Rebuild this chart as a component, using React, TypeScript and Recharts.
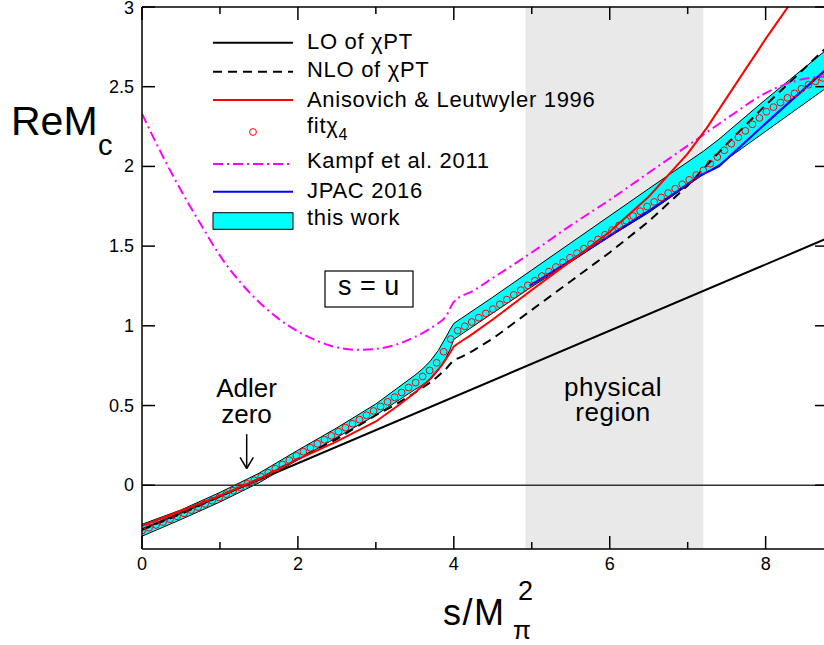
import React from 'react';
import {
  ComposedChart, Line, Area, Scatter, XAxis, YAxis,
  ReferenceArea, ReferenceLine, Legend
} from 'recharts';

const FONT = '"Liberation Sans", Arial, Helvetica, sans-serif';

// values, x = s/M_pi^2
const loS = [0, 8.8];
const loY = [-0.277, 1.551];

const nloS = [0, 0.5, 1.0, 1.5, 2.0, 2.5, 3.0, 3.25, 3.5, 3.7, 3.8, 3.9, 3.97, 4.0, 4.1, 4.25, 4.5, 5.0, 5.5, 6.0, 6.5, 7.0, 7.5, 8.0, 8.8];
const nloY = [-0.28, -0.18, -0.07, 0.04, 0.165, 0.29, 0.44, 0.505, 0.58, 0.645, 0.685, 0.73, 0.77, 0.785, 0.805, 0.845, 0.92, 1.10, 1.28, 1.46, 1.655, 1.88, 2.14, 2.385, 2.755];

const alS = [0, 0.5, 1.0, 1.5, 2.0, 2.5, 3.0, 3.3, 3.5, 3.7, 3.85, 3.95, 4.0, 4.1, 4.2, 4.5, 5.0, 5.5, 6.0, 6.5, 7.0, 7.25, 7.5, 7.75, 7.9, 8.0, 8.15, 8.3, 8.5];
const alY = [-0.255, -0.16, -0.065, 0.04, 0.163, 0.275, 0.40, 0.505, 0.58, 0.668, 0.755, 0.83, 0.87, 0.905, 0.935, 1.04, 1.225, 1.405, 1.59, 1.81, 2.08, 2.245, 2.43, 2.615, 2.725, 2.80, 2.905, 3.01, 3.15];

const kampfS = [0, 0.25, 0.5, 0.75, 1.0, 1.25, 1.5, 1.75, 2.0, 2.25, 2.5, 2.75, 3.0, 3.25, 3.5, 3.75, 3.9, 4.0, 4.25, 4.5, 5.0, 5.5, 6.0, 6.5, 7.0, 7.5, 8.0, 8.25, 8.5, 8.8];
const kampfY = [2.33, 2.08, 1.85, 1.64, 1.44, 1.28, 1.15, 1.045, 0.965, 0.905, 0.865, 0.85, 0.855, 0.88, 0.93, 1.0, 1.06, 1.15, 1.22, 1.30, 1.46, 1.63, 1.79, 1.96, 2.13, 2.30, 2.46, 2.515, 2.55, 2.565];

const jpacS = [4.97, 5.5, 6.0, 6.5, 7.15, 7.4, 8.0, 8.8];
const jpacY = [1.25, 1.41, 1.565, 1.72, 1.94, 2.0, 2.27, 2.62];

const bandS = [0, 0.5, 1.0, 1.5, 2.0, 2.5, 3.0, 3.5, 3.6, 3.7, 3.8, 3.9, 3.95, 4.0, 4.5, 5.0, 5.5, 6.0, 6.5, 7.2, 7.4, 8.0, 8.8];
const bandLow = [-0.32, -0.215, -0.105, 0.015, 0.16, 0.30, 0.44, 0.60, 0.63, 0.665, 0.72, 0.80, 0.85, 0.915, 1.08, 1.245, 1.40, 1.56, 1.71, 1.95, 2.01, 2.22, 2.50];
const bandHigh = [-0.245, -0.155, -0.045, 0.075, 0.22, 0.36, 0.51, 0.69, 0.73, 0.78, 0.845, 0.93, 0.975, 1.015, 1.18, 1.35, 1.52, 1.69, 1.86, 2.095, 2.17, 2.42, 2.74];

const fitS = [
  0, 0.09, 0.18, 0.27, 0.36, 0.45, 0.54, 0.63, 0.72, 0.81,
  0.9, 0.99, 1.08, 1.17, 1.26, 1.35, 1.44, 1.53, 1.62, 1.71,
  1.8, 1.89, 1.98, 2.07, 2.16, 2.25, 2.34, 2.43, 2.52, 2.61,
  2.7, 2.79, 2.88, 2.97, 3.06, 3.15, 3.24, 3.33, 3.42, 3.51,
  3.6, 3.69, 3.78, 3.87, 3.96, 4.05, 4.14, 4.23, 4.32, 4.41,
  4.5, 4.59, 4.68, 4.77, 4.86, 4.95, 5.04, 5.13, 5.22, 5.31,
  5.4, 5.49, 5.58, 5.67, 5.76, 5.85, 5.94, 6.03, 6.12, 6.21,
  6.3, 6.39, 6.48, 6.57, 6.66, 6.75, 6.84, 6.93, 7.02, 7.11,
  7.2, 7.29, 7.38, 7.47, 7.56, 7.65, 7.74, 7.83, 7.92, 8.01,
  8.1, 8.19, 8.28, 8.37, 8.46, 8.55, 8.64, 8.73,
];
const fitY = [
  -0.285, -0.267, -0.249, -0.231, -0.213, -0.195, -0.176, -0.156, -0.137, -0.117,
  -0.097, -0.077, -0.056, -0.034, -0.013, 0.009, 0.031, 0.053, 0.078, 0.104,
  0.130, 0.157, 0.184, 0.210, 0.235, 0.260, 0.285, 0.310, 0.336, 0.361,
  0.386, 0.412, 0.439, 0.466, 0.494, 0.523, 0.552, 0.582, 0.613, 0.644,
  0.682, 0.720, 0.768, 0.837, 0.917, 0.970, 0.997, 1.024, 1.051, 1.078,
  1.105, 1.135, 1.164, 1.194, 1.224, 1.254, 1.283, 1.312, 1.340, 1.369,
  1.398, 1.427, 1.456, 1.484, 1.513, 1.542, 1.571, 1.600, 1.630, 1.659,
  1.689, 1.719, 1.748, 1.777, 1.805, 1.833, 1.860, 1.888, 1.916, 1.946,
  1.975, 2.017, 2.059, 2.101, 2.142, 2.183, 2.223, 2.264, 2.304, 2.343,
  2.372, 2.401, 2.430, 2.458, 2.487, 2.512, 2.534, 2.555,
];

const xTicks = [0, 1, 2, 3, 4, 5, 6, 7, 8];
const yTicks = [0, 0.5, 1, 1.5, 2, 2.5, 3];

const physRegion = [4.92, 7.2];
const adlerZero = 1.343;

const toPts = (xs: number[], ys: number[]) => xs.map((s, i) => ({ s, y: ys[i] }));
const loData = toPts(loS, loY);
const nloData = toPts(nloS, nloY);
const alData = toPts(alS, alY);
const kampfData = toPts(kampfS, kampfY);
const jpacData = toPts(jpacS, jpacY);
const fitData = toPts(fitS, fitY);
const bandData = bandS.map((s, i) => ({ s, band: [bandLow[i], bandHigh[i]] }));

const BottomTick = (props: any) => {
  const { x, y, payload } = props;
  const major = payload.value % 2 === 0;
  return (
    <g>
      <line x1={x} y1={y} x2={x} y2={y - (major ? 13 : 7)} stroke="#000" strokeWidth={1.5} />
      {major && (
        <text x={x} y={y + 21} textAnchor="middle" fontSize={18} fontFamily={FONT} fill="#000">
          {payload.value}
        </text>
      )}
    </g>
  );
};

const TopTick = (props: any) => {
  const { x, y, payload } = props;
  const major = payload.value % 2 === 0;
  return <line x1={x} y1={y} x2={x} y2={y + (major ? 13 : 7)} stroke="#000" strokeWidth={1.5} />;
};

const LeftTick = (props: any) => {
  const { x, y, payload } = props;
  return (
    <g>
      <line x1={x} y1={y} x2={x + 13} y2={y} stroke="#000" strokeWidth={1.5} />
      <text x={x - 8} y={Math.max(y + 6, 14)} textAnchor="end" fontSize={18} fontFamily={FONT} fill="#000">
        {payload.value}
      </text>
    </g>
  );
};

const RightTick = (props: any) => {
  const { x, y } = props;
  return <line x1={x} y1={y} x2={x - 13} y2={y} stroke="#000" strokeWidth={1.5} />;
};

const FitCircle = (props: any) => (
  <circle cx={props.cx} cy={props.cy} r={3.4} fill="none" stroke="#ff0000" strokeWidth={1} />
);

// legend layout (pixels)
const legendRows = [
  { label: 'LO of χPT', kind: 'line', color: '#000', dash: undefined, lineY: 42.7, textY: 48.5 },
  { label: 'NLO of χPT', kind: 'line', color: '#000', dash: '9 6', lineY: 71.7, textY: 77 },
  { label: 'Anisovich & Leutwyler 1996', kind: 'line', color: '#ff0000', dash: undefined, lineY: 100, textY: 106.7 },
  { label: 'fitχ', kind: 'dot', color: '#ff0000', dash: undefined, lineY: 132, textY: 133 },
  { label: 'Kampf et al. 2011', kind: 'line', color: '#ff00ff', dash: '10 4 2 4', lineY: 164, textY: 168 },
  { label: 'JPAC 2016', kind: 'line', color: '#0000ff', dash: undefined, lineY: 191.7, textY: 198 },
  { label: 'this work', kind: 'box', color: '#00ffff', dash: undefined, lineY: 221, textY: 225 },
];

const LegendBox = () => (
  <svg width={824} height={645} style={{ position: 'absolute', left: 0, top: 0 }}>
    {legendRows.map((r) => (
      <g key={r.label}>
        {r.kind === 'line' && (
          <line x1={213} x2={293} y1={r.lineY} y2={r.lineY} stroke={r.color} strokeWidth={2} strokeDasharray={r.dash} />
        )}
        {r.kind === 'dot' && <circle cx={253} cy={r.lineY} r={3.4} fill="none" stroke={r.color} strokeWidth={1} />}
        {r.kind === 'box' && (
          <rect x={213} y={r.lineY - 8.3} width={80} height={16.6} fill={r.color} stroke="#000" strokeWidth={1} />
        )}
        <text x={307} y={r.textY} fontSize={22} letterSpacing={0.7} fontFamily={FONT} fill="#000">
          {r.label}
          {r.kind === 'dot' && <tspan fontSize={16} dy={7}>4</tspan>}
        </text>
      </g>
    ))}
  </svg>
);

export default function App() {
  return (
    <div style={{ position: 'absolute', left: 0, top: 0, width: 824, height: 645, overflow: 'hidden', background: '#fff' }}>
      <ComposedChart width={840} height={645} margin={{ top: 0, right: 0, bottom: 0, left: 0 }}>
        <XAxis
          dataKey="s" type="number" domain={[0, 8.8]} allowDataOverflow ticks={xTicks} interval={0}
          tickLine={false} tickSize={0} tickMargin={0} tick={<BottomTick />}
          axisLine={{ stroke: '#000', strokeWidth: 1.5 }} height={96}
        />
        <XAxis
          xAxisId="top" orientation="top" dataKey="s" type="number" domain={[0, 8.8]} allowDataOverflow
          ticks={xTicks} interval={0} tickLine={false} tickSize={0} tickMargin={0} tick={<TopTick />}
          axisLine={{ stroke: '#000', strokeWidth: 1.5 }} height={7}
        />
        <YAxis
          type="number" domain={[-0.4, 3]} allowDataOverflow ticks={yTicks} interval={0}
          tickLine={false} tickSize={0} tickMargin={0} tick={<LeftTick />}
          axisLine={{ stroke: '#000', strokeWidth: 1.5 }} width={142}
        />
        <YAxis
          yAxisId="right" orientation="right" type="number" domain={[-0.4, 3]} allowDataOverflow
          ticks={yTicks} interval={0} tickLine={false} tickSize={0} tickMargin={0} tick={<RightTick />}
          axisLine={{ stroke: '#000', strokeWidth: 1.5 }} width={12}
        />

        <ReferenceArea x1={physRegion[0]} x2={physRegion[1]} fill="#e9e9e9" fillOpacity={1} stroke="none" />
        <ReferenceLine y={0} stroke="#333" strokeWidth={1.3} />

        <Area
          data={bandData} dataKey="band" type="linear" fill="#00ffff" fillOpacity={1}
          stroke="#000" strokeWidth={1} isAnimationActive={false} legendType="none"
        />
        <Line data={loData} dataKey="y" type="linear" stroke="#000" strokeWidth={2} dot={false} isAnimationActive={false} />
        <Line data={nloData} dataKey="y" type="linear" stroke="#000" strokeWidth={2} strokeDasharray="9 6" dot={false} isAnimationActive={false} />
        <Line data={kampfData} dataKey="y" type="monotone" stroke="#ff00ff" strokeWidth={2} strokeDasharray="10 4 2 4" dot={false} isAnimationActive={false} />
        <Line data={jpacData} dataKey="y" type="linear" stroke="#0000ff" strokeWidth={2.2} dot={false} isAnimationActive={false} />
        <Line data={alData} dataKey="y" type="linear" stroke="#ff0000" strokeWidth={2} dot={false} isAnimationActive={false} />
        <Scatter data={fitData} dataKey="y" shape={<FitCircle />} isAnimationActive={false} />

        <ReferenceLine segment={[{ x: adlerZero, y: 0.32 }, { x: adlerZero, y: 0.105 }]} stroke="#000" strokeWidth={1.5} />
        <ReferenceLine segment={[{ x: adlerZero - 0.085, y: 0.175 }, { x: adlerZero, y: 0.105 }]} stroke="#000" strokeWidth={1.5} />
        <ReferenceLine segment={[{ x: adlerZero + 0.085, y: 0.175 }, { x: adlerZero, y: 0.105 }]} stroke="#000" strokeWidth={1.5} />

        <Legend
          layout="vertical" align="center" verticalAlign="middle" content={<LegendBox />}
          wrapperStyle={{ position: 'absolute', left: 0, top: 0, width: 824, height: 645, pointerEvents: 'none' }}
        />
      </ComposedChart>

      <svg width={824} height={645} style={{ position: 'absolute', left: 0, top: 0, pointerEvents: 'none' }} fontFamily={FONT}>
        <text x={11} y={135} fontSize={41}>ReM</text>
        <text x={98} y={155} fontSize={29}>c</text>
        <text x={443} y={625} fontSize={36} letterSpacing={1.5}>s/M</text>
        <text x={513} y={639} fontSize={26}>π</text>
        <text x={518} y={600} fontSize={27}>2</text>
        <text fontSize={26} textAnchor="middle">
          <tspan x={246.5} y={397}>Adler</tspan>
          <tspan x={246.5} y={423}>zero</tspan>
        </text>
        <text fontSize={26} textAnchor="middle" letterSpacing={0.5}>
          <tspan x={613} y={396}>physical</tspan>
          <tspan x={613} y={421}>region</tspan>
        </text>
        <rect x={325} y={271} width={88} height={36} fill="#fff" stroke="#000" strokeWidth={1.2} />
        <text x={369} y={295} fontSize={27} textAnchor="middle" letterSpacing={0.5}>s = u</text>
      </svg>
    </div>
  );
}
